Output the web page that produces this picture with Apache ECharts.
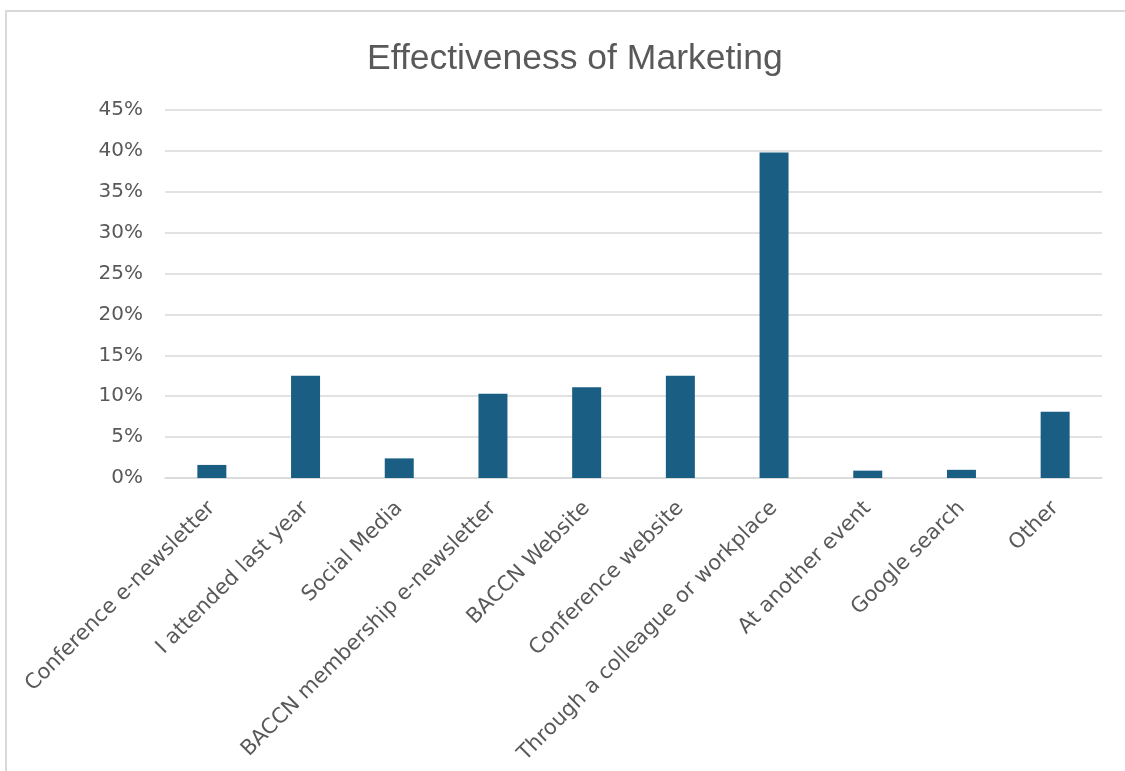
<!DOCTYPE html>
<html>
<head>
<meta charset="utf-8">
<script src="https://cdn.jsdelivr.net/npm/echarts@6/dist/echarts.min.js"></script>
<style>
html,body{margin:0;padding:0;background:#fff;}
#frame{position:absolute;left:5px;top:10px;width:1140px;height:780px;border-left:2px solid #d9d9d9;border-top:2px solid #d9d9d9;box-sizing:border-box;}
#chart{position:absolute;left:0;top:0;width:1125px;height:771px;}
</style>
</head>
<body>
<div id="frame"></div>
<div id="chart"></div>
<script>
const titleText = 'Effectiveness of Marketing';
const categories = [
  'Conference e-newsletter',
  'I attended last year',
  'Social Media',
  'BACCN membership e-newsletter',
  'BACCN Website',
  'Conference website',
  'Through a colleague or workplace',
  'At another event',
  'Google search',
  'Other'
];
const values = [1.6, 12.5, 2.4, 10.3, 11.1, 12.5, 39.8, 0.9, 1.0, 8.1];
const yTicks = [0, 5, 10, 15, 20, 25, 30, 35, 40, 45];

const chart = echarts.init(document.getElementById('chart'));
chart.setOption({
  backgroundColor: 'transparent',
  animation: false,
  title: {
    text: titleText,
    left: 362,
    top: 36,
    textStyle: {fontFamily: 'Liberation Sans', fontSize: 35.5, fontWeight: 'normal', color: '#595959'}
  },
  grid: {left: 165, right: 23, top: 110, bottom: 293, containLabel: false},
  xAxis: {
    type: 'category',
    data: categories,
    axisLine: {show: true, lineStyle: {color: '#d9d9d9', width: 1.5}},
    axisTick: {show: false},
    axisLabel: {
      rotate: 45,
      interval: 0,
      margin: 27,
      fontFamily: 'DejaVu Sans',
      fontSize: 21,
      color: '#595959'
    }
  },
  yAxis: {
    type: 'value',
    min: yTicks[0],
    max: yTicks[yTicks.length - 1],
    interval: 5,
    axisLine: {show: false},
    axisTick: {show: false},
    splitLine: {lineStyle: {color: '#d9d9d9', width: 1.5}},
    axisLabel: {
      formatter: v => v + '%',
      margin: 22,
      fontFamily: 'DejaVu Sans',
      fontSize: 20,
      color: '#595959'
    }
  },
  series: [{
    type: 'bar',
    data: values,
    barWidth: 29,
    itemStyle: {color: '#1a5f83'}
  }]
});
</script>
</body>
</html>
